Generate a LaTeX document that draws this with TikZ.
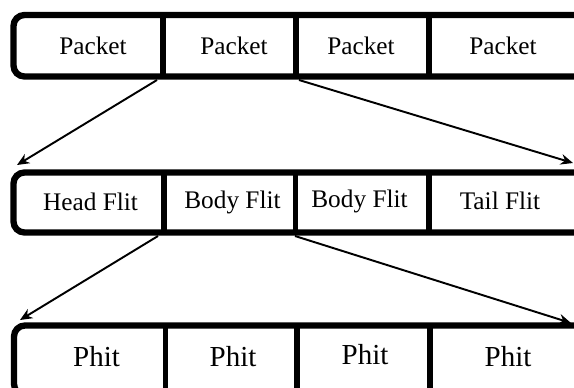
\documentclass[tikz,border=0pt]{standalone}
\usepackage{fontspec}
\setmainfont{Liberation Serif}
\usetikzlibrary{arrows.meta}

\tikzset{
  frame/.style={line width=3.6pt, rounded corners=0.22cm},
  divider/.style={line width=3pt},
  link/.style={-{Stealth[length=7pt,width=6pt]}, line width=1.1pt},
  cell/.style={font=\fontsize{14.4}{16}\selectfont, inner sep=0pt},
  phitcell/.style={font=\fontsize{16.5}{18}\selectfont, inner sep=0pt},
}

\begin{document}
\begin{tikzpicture}[x=0.02cm, y=-0.02cm]
    \useasboundingbox (0,0) rectangle (574,387);
    \clip (0,0) rectangle (574,387);

    % packets
    \draw[frame] (13.5,15) rectangle (600,76.5);
    \draw[divider] (163,15) -- (163,76.5);
    \draw[divider] (296,15) -- (296,76.5);
    \draw[divider] (429,15) -- (429,76.5);
    \node[cell] (pkt1) at (93,46) {Packet};
    \node[cell] (pkt2) at (234,46) {Packet};
    \node[cell] (pkt3) at (361,46) {Packet};
    \node[cell] (pkt4) at (503,46) {Packet};

    % flits
    \draw[frame] (13.5,172.5) rectangle (600,232.5);
    \draw[divider] (164,172.5) -- (164,232.5);
    \draw[divider] (295.5,172.5) -- (295.5,232.5);
    \draw[divider] (429,172.5) -- (429,232.5);
    \node[cell] (head) at (90.5,202) {Head Flit};
    \node[cell] (body1) at (232.5,202) {Body Flit};
    \node[cell] (body2) at (359.5,201) {Body Flit};
    \node[cell] (tail) at (500,201) {Tail Flit};

    % phits
    \draw[frame] (14,325.5) rectangle (600,395);
    \draw[divider] (165.5,325.5) -- (165.5,395);
    \draw[divider] (297,325.5) -- (297,395);
    \draw[divider] (430,325.5) -- (430,395);
    \node[phitcell] (ph1) at (96.5,357) {Phit};
    \node[phitcell] (ph2) at (233,357) {Phit};
    \node[phitcell] (ph3) at (365,355) {Phit};
    \node[phitcell] (ph4) at (508,357) {Phit};

    % arrow ends
    \coordinate (pktL) at (157,80);
    \coordinate (pktR) at (299,80);
    \coordinate (flitTL) at (17,165);
    \coordinate (flitTR) at (573,163);
    \coordinate (flitL) at (158,236);
    \coordinate (flitR) at (295,236);
    \coordinate (phitTL) at (20,320);
    \coordinate (phitTR) at (571,323);

    \draw[link] (pktL) -- (flitTL);
    \draw[link] (pktR) -- (flitTR);
    \draw[link] (flitL) -- (phitTL);
    \draw[link] (flitR) -- (phitTR);
\end{tikzpicture}
\end{document}
